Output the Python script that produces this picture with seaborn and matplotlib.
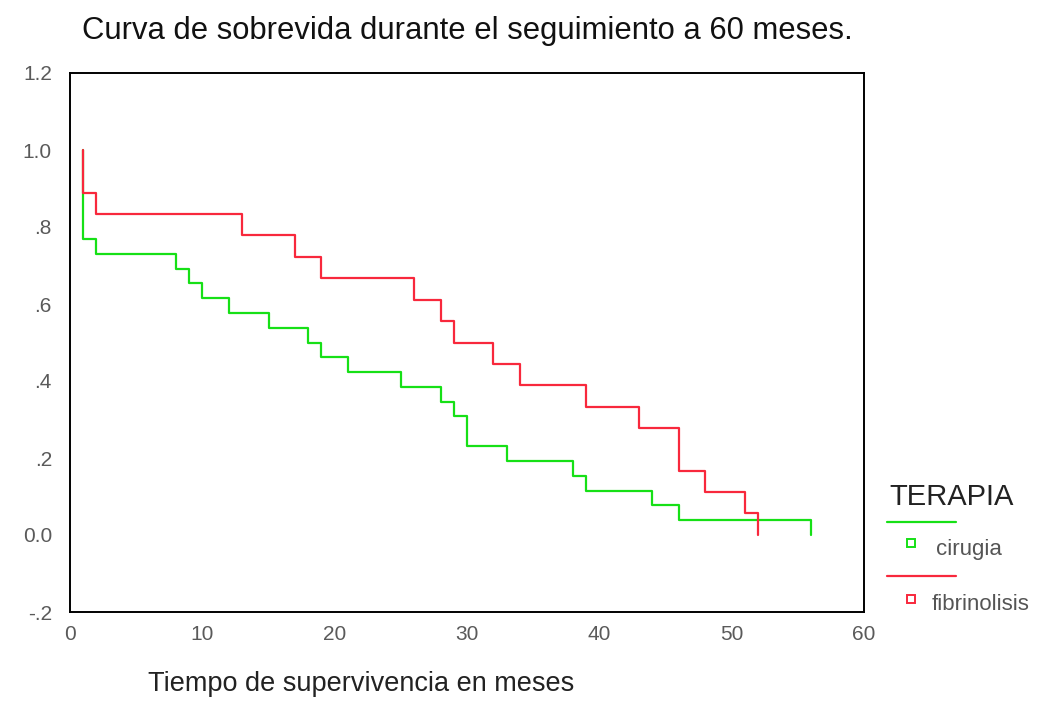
import matplotlib
matplotlib.use("Agg")
import matplotlib.pyplot as plt
import seaborn as sns
import pandas as pd
from matplotlib.lines import Line2D

# ---- data ----
cir_time = [1, 1, 2, 8, 9, 10, 12, 15, 18, 19, 21, 25, 28, 29, 30, 33, 38, 39, 44, 46, 56]
cir_surv = [1.0, 0.769, 0.731, 0.692, 0.654, 0.615, 0.577, 0.538, 0.500, 0.462, 0.423,
            0.385, 0.346, 0.308, 0.231, 0.192, 0.154, 0.115, 0.077, 0.038, 0.0]
fib_time = [1, 1, 2, 13, 17, 19, 26, 28, 29, 32, 34, 39, 43, 46, 48, 51, 52]
fib_surv = [1.0, 0.889, 0.833, 0.778, 0.722, 0.667, 0.611, 0.556, 0.500, 0.444, 0.389,
            0.333, 0.278, 0.167, 0.111, 0.056, 0.0]
groups = ["cirugia", "fibrinolisis"]
x_ticks = [0, 10, 20, 30, 40, 50, 60]
y_ticks = [-0.2, 0.0, 0.2, 0.4, 0.6, 0.8, 1.0, 1.2]
y_tick_labels = ["-.2", "0.0", ".2", ".4", ".6", ".8", "1.0", "1.2"]
title = "Curva de sobrevida durante el seguimiento a 60 meses."
xlabel = "Tiempo de supervivencia en meses"
legend_title = "TERAPIA"

colors = {"cirugia": "#16e016", "fibrinolisis": "#f8283c"}

df = pd.concat([
    pd.DataFrame({"t": cir_time, "s": cir_surv, "g": groups[0], "o": range(len(cir_time))}),
    pd.DataFrame({"t": fib_time, "s": fib_surv, "g": groups[1], "o": range(len(fib_time))}),
])

sns.set_style("white")
plt.rcParams["font.family"] = ["Liberation Sans", "DejaVu Sans"]

W, H = 1059, 727
fig = plt.figure(figsize=(W / 100, H / 100), dpi=100)
ax = fig.add_axes([70 / W, 1 - 612 / H, (864 - 70) / W, (612 - 73) / H])

for g in groups:
    sub = df[df["g"] == g]
    sns.lineplot(data=sub, x="t", y="s", sort=False, estimator=None, ax=ax,
                 color=colors[g], lw=1.6, drawstyle="steps-post", legend=False)

ax.set_xlim(0, 60)
ax.set_ylim(-0.2, 1.2)
ax.set_xticks(x_ticks)
ax.set_xticklabels([str(v) for v in x_ticks])
ax.set_yticks(y_ticks)
ax.set_yticklabels(y_tick_labels)
ax.set_xlabel("")
ax.set_ylabel("")
for sp in ax.spines.values():
    sp.set_visible(True)
    sp.set_color("black")
    sp.set_linewidth(1.4)
ax.tick_params(axis="both", direction="out", length=4, width=2.2, color="black",
               labelsize=15, labelcolor="#5a5a5a")
ax.tick_params(axis="x", pad=5)
ax.tick_params(axis="y", pad=9)

fig.text(82 / W, 1 - 31 / H, title, ha="left", va="center", fontsize=22.3, color="#111111")
fig.text(148 / W, 1 - 684 / H, xlabel, ha="left", va="center", fontsize=19.5, color="#222222")

# legend (custom, SPSS-like)
fig.text(889 / W, 1 - 497 / H, legend_title, ha="left", va="center", fontsize=21, color="#222222")
for i, g in enumerate(groups):
    yl = [522, 576][i]
    ym = [543, 599][i]
    fig.add_artist(Line2D([887 / W, 956 / W], [1 - yl / H, 1 - yl / H],
                          color=colors[g], lw=1.6, transform=fig.transFigure))
    fig.add_artist(Line2D([911 / W], [1 - ym / H], marker="s", markersize=6,
                          markerfacecolor="white", markeredgecolor=colors[g],
                          markeredgewidth=1.4, linestyle="none", transform=fig.transFigure))
    fig.text([936, 932][i] / W, 1 - (ym + 6) / H, g, ha="left", va="center",
             fontsize=16, color="#555555")

fig.savefig("out.png", dpi=100)
